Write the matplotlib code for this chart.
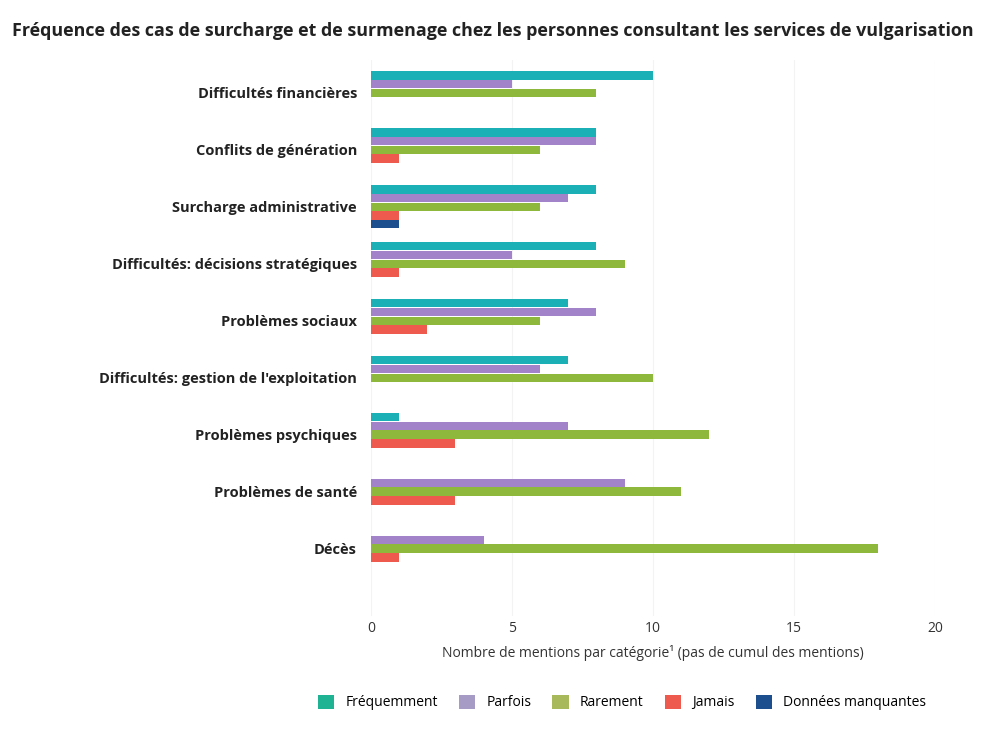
import numpy as np
import matplotlib
matplotlib.use('Agg')
from matplotlib import pyplot as plt
from matplotlib.patches import Patch

categories = ['Difficultés financières', 'Conflits de génération', 'Surcharge administrative',
              'Difficultés: décisions stratégiques', 'Problèmes sociaux',
              "Difficultés: gestion de l'exploitation", 'Problèmes psychiques',
              'Problèmes de santé', 'Décès']
series_names = ['Fréquemment', 'Parfois', 'Rarement', 'Jamais', 'Données manquantes']
frequemment = [10, 8, 8, 8, 7, 7, 1, 0, 0]
parfois = [5, 8, 7, 5, 8, 6, 7, 9, 4]
rarement = [8, 6, 6, 9, 6, 10, 12, 11, 18]
jamais = [0, 1, 1, 1, 2, 0, 3, 3, 1]
manquantes = [0, 0, 1, 0, 0, 0, 0, 0, 0]
x_ticks = [0, 5, 10, 15, 20]

colors = ['#1bb0b6', '#a283c9', '#8db83c', '#ef5a4e', '#1d4f8f']
legend_colors = ['#1fb394', '#a59bc4', '#a7b95a', '#ef5a4e', '#1d4f8f']

plt.rcParams['font.family'] = ['Open Sans', 'DejaVu Sans']

fig = plt.figure(figsize=(9.81, 7.34), dpi=100)
ax = fig.add_axes([0.378, 0.161, 0.575, 0.757])

y = np.arange(len(categories))
slot = 0.153
for k, vals in enumerate([frequemment, parfois, rarement, jamais, manquantes]):
    ax.barh(y + (k - 2) * slot, vals, height=slot * 0.96, color=colors[k], zorder=3)

ax.set_xlim(0, 20)
ax.set_ylim(9.18, -0.573)
ax.set_xticks(x_ticks)
ax.set_yticks(y)
ax.set_yticklabels(categories, fontsize=10.5, fontweight='bold', color='#222222')
ax.tick_params(axis='y', length=0, pad=10)
ax.tick_params(axis='x', length=0, pad=4, labelsize=10, colors='#333333')
ax.grid(axis='x', color='#f3f3f3', linewidth=0.8, zorder=0)
for s in ax.spines.values():
    s.set_visible(False)

ax.set_xlabel('Nombre de mentions par catégorie\u00b9 (pas de cumul des mentions)',
              fontsize=10, color='#333333', labelpad=6)

fig.text(0.012, 0.958, 'Fréquence des cas de surcharge et de surmenage chez les personnes consultant les services de vulgarisation',
         fontsize=12.9, fontweight='bold', color='#222222', ha='left', va='center')

handles = [Patch(facecolor=c, edgecolor='none') for c in legend_colors]
fig.legend(handles, series_names, loc='center', bbox_to_anchor=(0.634, 0.043), ncol=5,
           frameon=False, fontsize=10, handlelength=1.2, handleheight=1.2,
           columnspacing=1.5, handletextpad=0.8)

fig.savefig('out.png', dpi=100, facecolor='white')
